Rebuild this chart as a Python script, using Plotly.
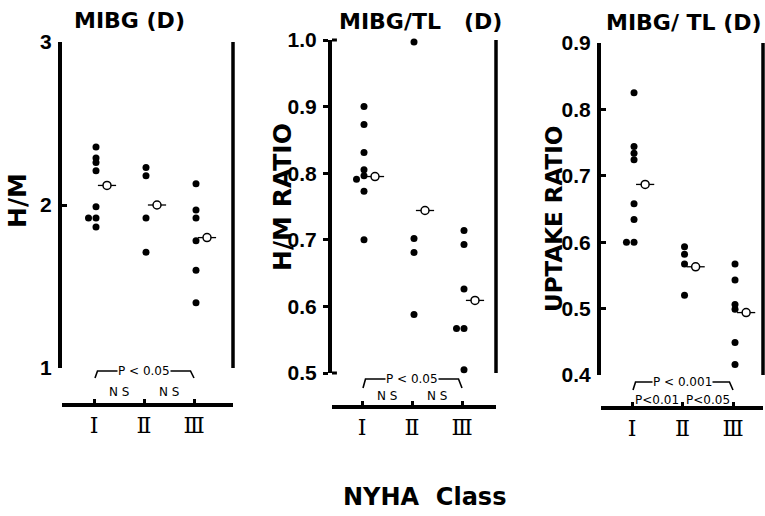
import plotly.graph_objects as go

W, H = 765, 516

# ---------------- data ----------------
classes = [1, 2, 3]
class_labels = ["Ⅰ", "Ⅱ", "Ⅲ"]

# Panel A: MIBG (D), H/M
mibg_I = [2.356, 2.288, 2.26, 2.21, 1.99, 1.92, 1.92, 1.865]
mibg_II = [2.23, 2.18, 1.92, 1.71]
mibg_III = [2.13, 1.97, 1.92, 1.78, 1.60, 1.40]
mibg_mean = [2.12, 2.00, 1.80]
mibg_yticks = [1, 2, 3]

# Panel B: MIBG/TL (D), H/M ratio
hmr_I = [0.90, 0.873, 0.831, 0.805, 0.796, 0.791, 0.773, 0.70]
hmr_II = [0.997, 0.702, 0.681, 0.588]
hmr_III = [0.714, 0.693, 0.626, 0.567, 0.567, 0.505]
hmr_mean = [0.795, 0.744, 0.609]
hmr_yticks = [0.5, 0.6, 0.7, 0.8, 0.9, 1.0]

# Panel C: MIBG/TL (D), uptake ratio
upt_I = [0.825, 0.744, 0.734, 0.724, 0.658, 0.634, 0.60, 0.60]
upt_II = [0.593, 0.582, 0.567, 0.52]
upt_III = [0.567, 0.543, 0.506, 0.499, 0.449, 0.416]
upt_mean = [0.687, 0.563, 0.494]
upt_yticks = [0.4, 0.5, 0.6, 0.7, 0.8, 0.9]

titles = ["MIBG (D)", "MIBG/TL\u00a0\u00a0\u00a0(D)", "MIBG/\u00a0TL\u00a0(D)"]
ytitles = ["H/M", "H/M\u00a0RATIO", "UPTAKE\u00a0RATIO"]
p_overall = ["P < 0.05", "P < 0.05", "P < 0.001"]
p_pairs = [["N S", "N S"], ["N S", "N S"], ["P<0.01", "P<0.05"]]
xlabel = "NYHA\u00a0\u00a0Class"

# ---------------- layout helpers ----------------
def fx(p):
    return p / W

def fy(p):
    return 1 - p / H

panels = [
    dict(groups=[mibg_I, mibg_II, mibg_III], mean=mibg_mean, yticks=mibg_yticks, fmt="{:.0f}",
         xdom=(62, 233), ydom=(368, 42), yr=(1, 3), xr=(0.36, 3.78), xline=405,
         ticks="inside", title_xy=(129, 21), ytitle_xy=(17, 201), ytitle_size=25,
         br=(378, 371), pair_y=392),
    dict(groups=[hmr_I, hmr_II, hmr_III], mean=hmr_mean, yticks=hmr_yticks, fmt="{:.1f}",
         xdom=(332, 496), ydom=(373, 40), yr=(0.5, 1.0), xr=(0.4, 3.68), xline=407,
         ticks="outside", title_xy=(420, 22), ytitle_xy=(282, 197), ytitle_size=25,
         br=(388, 379), pair_y=396),
    dict(groups=[upt_I, upt_II, upt_III], mean=upt_mean, yticks=upt_yticks, fmt="{:.1f}",
         xdom=(601, 763), ydom=(375, 43), yr=(0.4, 0.9), xr=(0.386, 3.594), xline=408,
         ticks="inside", title_xy=(684, 23), ytitle_xy=(554, 219), ytitle_size=23,
         br=(390, 382), pair_y=400),
]

DOT_DX = 0.04
SHIFT = 0.15
MEAN_DX = 0.26
BR_IN = 0.07

fig = go.Figure()
shapes = []
annotations = []
layout = {}

def ann(**kw):
    d = dict(showarrow=False, xanchor="center", yanchor="middle")
    d.update(kw)
    annotations.append(d)

for i, p in enumerate(panels):
    sfx = "" if i == 0 else str(i + 1)
    xa, ya = "x" + sfx, "y" + sfx
    span = p["yr"][1] - p["yr"][0]
    tol = 0.012 * span
    xs, ys = [], []
    for c, vals in zip(classes, p["groups"]):
        placed = []
        for v in sorted(vals, reverse=True):
            if any(abs(v - q) < tol for q in placed):
                xs.append(c + DOT_DX - SHIFT)
            else:
                xs.append(c + DOT_DX)
                placed.append(v)
            ys.append(v)
    fig.add_trace(go.Scatter(x=xs, y=ys, mode="markers", xaxis=xa, yaxis=ya,
                             marker=dict(color="black", size=7), cliponaxis=False,
                             showlegend=False, hoverinfo="y"))
    mx = [c + MEAN_DX for c in classes]
    fig.add_trace(go.Scatter(x=mx, y=p["mean"], mode="markers", xaxis=xa, yaxis=ya,
                             marker=dict(symbol="line-ew", size=13, color="black",
                                         line=dict(color="black", width=1.3)),
                             cliponaxis=False, showlegend=False, hoverinfo="skip"))
    fig.add_trace(go.Scatter(x=mx, y=p["mean"], mode="markers", xaxis=xa, yaxis=ya,
                             marker=dict(symbol="circle", size=8, color="white",
                                         line=dict(color="black", width=1.5)),
                             cliponaxis=False, showlegend=False, hoverinfo="y"))

    layout["xaxis" + sfx] = dict(
        domain=[fx(p["xdom"][0]), fx(p["xdom"][1])], range=list(p["xr"]),
        anchor="free", position=fy(p["xline"]), automargin=False,
        tickvals=classes, ticktext=class_labels,
        ticks="inside", ticklen=4, tickwidth=3, tickcolor="black",
        showline=True, linewidth=4, linecolor="black",
        tickfont=dict(family="DejaVu Serif, serif", size=22, color="black"),
        showgrid=False, zeroline=False, fixedrange=True)
    layout["yaxis" + sfx] = dict(
        domain=[fy(p["ydom"][0]), fy(p["ydom"][1])], range=list(p["yr"]),
        anchor=xa, automargin=False,
        tickvals=p["yticks"], ticktext=[p["fmt"].format(t) for t in p["yticks"]],
        ticks=p["ticks"], ticklen=5, tickwidth=3, tickcolor="black",
        showline=True, linewidth=4, linecolor="black", ticklabelstandoff=2,
        tickfont=dict(family="Liberation Sans, Arial, sans-serif",
                      size=21, color="black", weight="bold"),
        showgrid=False, zeroline=False, fixedrange=True)

    # right frame line
    shapes.append(dict(type="line", xref=xa + " domain", yref=ya + " domain",
                       x0=1, x1=1, y0=0, y1=1, line=dict(color="black", width=3.5)))
    if p["ticks"] == "outside":
        for yv in (0, 1):
            shapes.append(dict(type="line", xref=xa + " domain", yref=ya + " domain",
                               x0=0, x1=0.03, y0=yv, y1=yv, line=dict(color="black", width=3)))

    # significance bracket
    yb, yt = fy(p["br"][0]), fy(p["br"][1])
    c1, c3 = classes[0], classes[-1]
    path = (f"M {c1 + 0.02},{yb} L {c1 + BR_IN},{yt} L {c3 - BR_IN},{yt} L {c3},{yb}")
    shapes.append(dict(type="path", xref=xa, yref="paper", path=path,
                       line=dict(color="black", width=1.6)))
    ann(x=classes[1], y=yt, xref=xa, yref="paper", text=p_overall[i],
        bgcolor="white", borderpad=0,
        font=dict(family="DejaVu Sans", size=12, color="black"))
    for k, txt in enumerate(p_pairs[i]):
        ann(x=(classes[k] + classes[k + 1]) / 2, y=fy(p["pair_y"]),
            xref=xa, yref="paper", text=txt,
            font=dict(family="DejaVu Sans", size=12, color="black"))

    # titles
    ann(x=fx(p["title_xy"][0]), y=fy(p["title_xy"][1]), xref="paper", yref="paper",
        text="<b>" + titles[i] + "</b>",
        font=dict(family="DejaVu Sans", size=22, color="black"))
    ann(x=fx(p["ytitle_xy"][0]), y=fy(p["ytitle_xy"][1]), xref="paper", yref="paper",
        text="<b>" + ytitles[i] + "</b>", textangle=-90,
        font=dict(family="DejaVu Sans", size=p["ytitle_size"], color="black"))

ann(x=fx(424), y=fy(497), xref="paper", yref="paper",
    text="<b>" + xlabel + "</b>",
    font=dict(family="DejaVu Sans", size=24, color="black"))

fig.update_layout(width=W, height=H, margin=dict(l=0, r=0, t=0, b=0, autoexpand=False),
                  paper_bgcolor="white", plot_bgcolor="white",
                  shapes=shapes, annotations=annotations, **layout)

fig.write_html("out.html")
